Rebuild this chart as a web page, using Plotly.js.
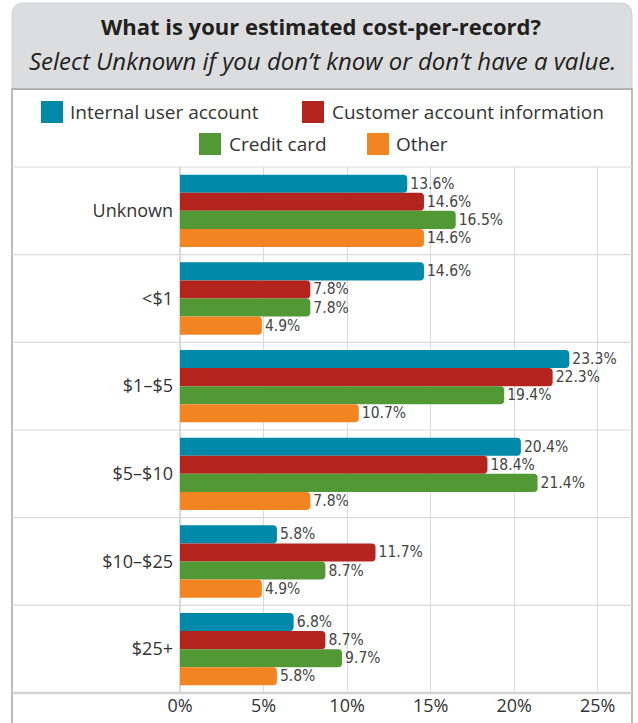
<!DOCTYPE html>
<html>
<head>
<meta charset="utf-8">
<script src="https://cdn.plot.ly/plotly-3.0.1.min.js"></script>
<style>
  html, body { margin: 0; padding: 0; background: #ffffff; }
  #chart { width: 638px; height: 723px; }
</style>
</head>
<body>
<div id="chart"></div>
<script>
// ---- Data ----
const categories = ["Unknown", "<$1", "$1–$5", "$5–$10", "$10–$25", "$25+"];
const seriesNames = ["Internal user account", "Customer account information", "Credit card", "Other"];
const internalUser = [13.6, 14.6, 23.3, 20.4, 5.8, 6.8];
const customerAccount = [14.6, 7.8, 22.3, 18.4, 11.7, 8.7];
const creditCard = [16.5, 7.8, 19.4, 21.4, 8.7, 9.7];
const other = [14.6, 4.9, 10.7, 7.8, 4.9, 5.8];
const xTickValues = [0, 5, 10, 15, 20, 25];
const xTickLabels = ["0%", "5%", "10%", "15%", "20%", "25%"];
const titleLine1 = "What is your estimated cost-per-record?";
const titleLine2 = "Select Unknown if you don’t know or don’t have a value.";

// ---- Styles ----
const colors = ["#0089a8", "#b4241f", "#529936", "#f28422"];
const W = 638, H = 723;
const M = { l: 180, r: 6, t: 167, b: 30 };
const PW = W - M.l - M.r, PH = H - M.t - M.b;
const px = v => (v - M.l) / PW;
const py = v => (H - M.b - v) / PH;
const gridColor = "#d9d9d9";
const borderColor = "#a8a8a8";
const labelFont = "'Open Sans', 'Noto Sans', sans-serif";
const numFont = "'DejaVu Sans Condensed', 'DejaVu Sans', sans-serif";

const seriesValues = [internalUser, customerAccount, creditCard, other];
const traces = seriesValues.map((vals, i) => ({
  type: "bar",
  orientation: "h",
  name: seriesNames[i],
  y: categories,
  x: vals,
  marker: { color: colors[i], cornerradius: 4 },
  texttemplate: "%{x:.1f}%",
  textposition: "outside",
  constraintext: "none",
  cliponaxis: false,
  textfont: { family: numFont, size: 15.5, color: "#444444", stretch: "condensed" },
  showlegend: false,
  hoverinfo: "x+y+name"
}));

// ---- Frame & separators ----
const shapes = [];
shapes.push({ type: "rect", xref: "paper", yref: "paper", layer: "below",
  x0: px(12), x1: px(632), y0: py(89), y1: py(745),
  line: { color: borderColor, width: 1.5 }, fillcolor: "#ffffff" });
const gpath = [
  ["M", 12, 89], ["L", 12, 15], ["Q", 12, 3, 24, 3], ["L", 620, 3],
  ["Q", 632, 3, 632, 15], ["L", 632, 89]
].map(seg => {
  let s = seg[0];
  for (let k = 1; k < seg.length; k += 2) s += (k > 1 ? " " : "") + px(seg[k]).toFixed(5) + "," + py(seg[k + 1]).toFixed(5);
  return s;
}).join(" ") + " Z";
shapes.push({ type: "path", xref: "paper", yref: "paper", layer: "below", path: gpath,
  fillcolor: "#dcdddf", line: { color: "#d0d1d3", width: 1 } });
shapes.push({ type: "line", xref: "paper", yref: "paper", layer: "below",
  x0: px(12), x1: px(632), y0: py(89), y1: py(89), line: { color: borderColor, width: 1.5 } });
for (let k = 0; k <= categories.length; k++) {
  const yy = 1 - k / categories.length;
  shapes.push({ type: "line", xref: "paper", yref: "paper", layer: "below",
    x0: px(12), x1: 1, y0: yy, y1: yy,
    line: { color: k === categories.length ? "#d2d2d2" : gridColor, width: k === categories.length ? 2.5 : 1.2 } });
}

// ---- Manual legend (large swatches) ----
const legendPos = [
  { sx: 41, sy: 101, tx: 68 },
  { sx: 302, sy: 101, tx: 330 },
  { sx: 199, sy: 133, tx: 227 },
  { sx: 367, sy: 133, tx: 394 }
];
const annotations = [];
legendPos.forEach((p, i) => {
  shapes.push({ type: "rect", xref: "paper", yref: "paper",
    x0: px(p.sx), x1: px(p.sx + 22), y0: py(p.sy), y1: py(p.sy + 22),
    fillcolor: colors[i], line: { width: 0 } });
  annotations.push({ xref: "paper", yref: "paper", x: px(p.tx), y: py(p.sy + 11),
    xanchor: "left", yanchor: "middle", showarrow: false, text: seriesNames[i],
    font: { family: labelFont, size: 19, color: "#333333" } });
});
annotations.push({ xref: "paper", yref: "paper", x: px(322), y: py(60),
  xanchor: "center", yanchor: "middle", showarrow: false,
  text: "<i>" + titleLine2 + "</i>",
  font: { family: labelFont, size: 24, color: "#231f20" } });

const layout = {
  width: W, height: H,
  margin: M,
  paper_bgcolor: "#ffffff",
  plot_bgcolor: "rgba(0,0,0,0)",
  title: {
    text: "<b>" + titleLine1 + "</b>",
    xref: "container", yref: "container",
    x: 321 / W, xanchor: "center",
    y: 1 - 27 / H, yanchor: "middle",
    font: { family: labelFont, size: 22, color: "#231f20" }
  },
  barmode: "group",
  bargap: 0.175,
  bargroupgap: 0,
  xaxis: {
    range: [0, 27.05],
    tickvals: xTickValues,
    ticktext: xTickLabels,
    showgrid: true, gridcolor: gridColor, gridwidth: 1.2,
    zeroline: true, zerolinecolor: gridColor, zerolinewidth: 1.2,
    showline: false, ticks: "",
    tickfont: { family: labelFont, size: 18, color: "#333333" },
    fixedrange: true
  },
  yaxis: {
    type: "category",
    categoryorder: "array",
    categoryarray: categories,
    autorange: "reversed",
    showgrid: false, zeroline: false, showline: false, ticks: "",
    ticklabelstandoff: 6,
    tickfont: { family: labelFont, size: 18, color: "#333333" },
    fixedrange: true
  },
  shapes: shapes,
  annotations: annotations,
  showlegend: false,
  font: { family: labelFont, color: "#333333" }
};

Plotly.newPlot("chart", traces, layout, { displayModeBar: false, staticPlot: true });
</script>
</body>
</html>
